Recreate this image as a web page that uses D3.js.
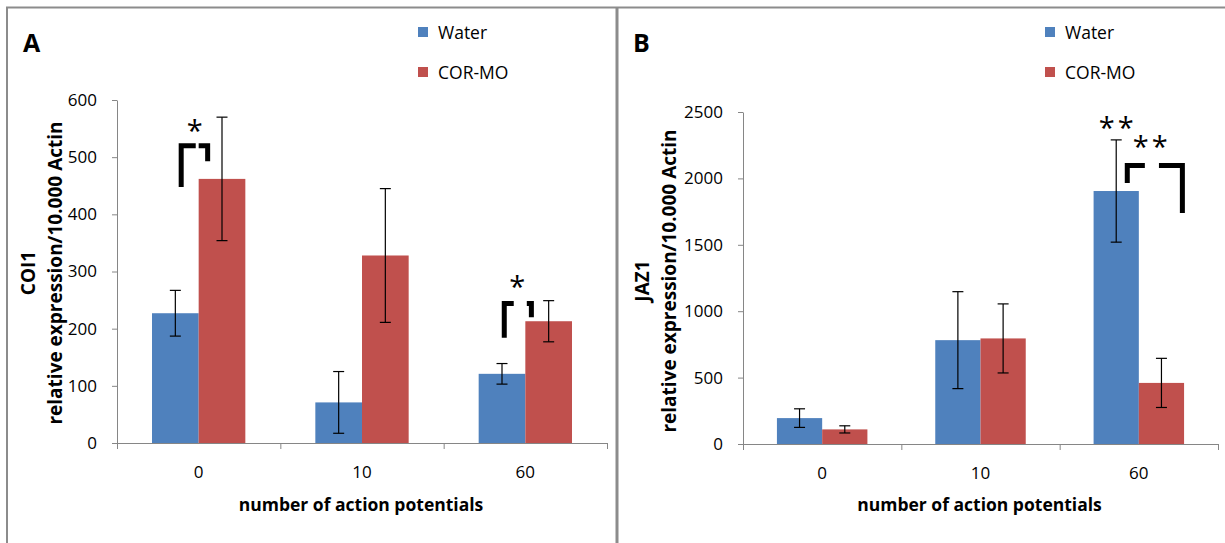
<!DOCTYPE html>
<html>
<head>
<meta charset="utf-8">
<script src="https://cdn.jsdelivr.net/npm/d3@7"></script>
<style>
  body { margin: 0; background: #fff; }
  svg text { font-family: "Open Sans", sans-serif; fill: #000; }
</style>
</head>
<body>
<div id="chart"></div>
<script>
// data
const categories = ["0", "10", "60"];
const seriesNames = ["Water", "COR-MO"];
const seriesColors = ["#4F81BD", "#C0504D"];

const coi1Water = [227, 71, 121];
const coi1WaterErr = [40, 54, 18];
const coi1Cor = [462, 328, 213];
const coi1CorErr = [108, 117, 36];
const coi1Ticks = [0, 100, 200, 300, 400, 500, 600];

const jaz1Water = [195, 782, 1905];
const jaz1WaterErr = [70, 365, 385];
const jaz1Cor = [110, 795, 460];
const jaz1CorErr = [27, 260, 185];
const jaz1Ticks = [0, 500, 1000, 1500, 2000, 2500];

// significance brackets: position inside category band (fraction) and value
const coi1Sig = [
  {cat: "0", left: [0.393, 0.482], right: [0.5, 0.555], top: 520, leftBottom: 448, rightBottom: 493, stars: [{t: "*", x: 0.485, v: 552}]},
  {cat: "60", left: [0.371, 0.429], right: [0.509, 0.537], top: 244, leftBottom: 184, rightBottom: 220, stars: [{t: "*", x: 0.46, v: 280}]}
];
const jaz1Sig = [
  {cat: "60", left: [0.427, 0.538], right: [0.627, 0.775], top: 2097, leftBottom: 1965, rightBottom: 1739,
   stars: [{t: "**", x: 0.367, v: 2410}, {t: "**", x: 0.582, v: 2267}]}
];

const W = 1225, H = 543;
const svg = d3.select("#chart").append("svg")
  .attr("width", W).attr("height", H);

// frame lines
svg.append("line").attr("x1", 6).attr("x2", W).attr("y1", 7.5).attr("y2", 7.5)
  .attr("stroke", "#8c8c8c").attr("stroke-width", 2);
svg.append("line").attr("x1", 7).attr("x2", 7).attr("y1", 7).attr("y2", H)
  .attr("stroke", "#8c8c8c").attr("stroke-width", 2);
svg.append("line").attr("x1", 617).attr("x2", 617).attr("y1", 7).attr("y2", H)
  .attr("stroke", "#8c8c8c").attr("stroke-width", 3);

function drawPanel(p) {
  const g = svg.append("g");

  const y = d3.scaleLinear().domain([0, p.ticks[p.ticks.length - 1]]).range([p.y0, p.y1]);
  const x = d3.scaleBand().domain(categories).range([p.x0, p.x1]);
  const xs = d3.scaleBand().domain(seriesNames).range([0, x.bandwidth()])
    .paddingInner(0).paddingOuter(0.75);

  // y axis
  const ya = g.append("g")
    .attr("transform", "translate(" + p.x0 + ",0)")
    .call(d3.axisLeft(y).tickValues(p.ticks).tickFormat(d3.format("d"))
      .tickSize(5).tickSizeOuter(0).tickPadding(15));
  ya.select(".domain").attr("stroke", "#868686");
  ya.selectAll(".tick line").attr("stroke", "#868686");
  ya.selectAll(".tick text").style("font-size", "17px").attr("fill", "#000");

  // x axis: ticks at category boundaries
  const xb = d3.scaleLinear().domain([0, categories.length]).range([p.x0, p.x1]);
  const xa = g.append("g")
    .attr("transform", "translate(0," + p.y0 + ")")
    .call(d3.axisBottom(xb).tickValues(d3.range(categories.length + 1)).tickFormat("").tickSize(6).tickSizeOuter(0));
  xa.select(".domain").attr("stroke", "#868686");
  xa.selectAll(".tick line").attr("stroke", "#868686");

  g.selectAll(".xlab").data(categories).enter().append("text")
    .attr("x", d => x(d) + x.bandwidth() / 2)
    .attr("y", p.y0 + 35)
    .attr("text-anchor", "middle")
    .style("font-size", "17px")
    .text(d => d);

  // bars
  const rows = [];
  categories.forEach((c, i) => {
    p.series.forEach((s, j) => {
      rows.push({cat: c, name: seriesNames[j], v: s.vals[i], e: s.errs[i], color: seriesColors[j]});
    });
  });

  g.selectAll(".bar").data(rows).enter().append("rect")
    .attr("x", d => x(d.cat) + xs(d.name))
    .attr("y", d => y(d.v))
    .attr("width", xs.bandwidth())
    .attr("height", d => y(0) - y(d.v))
    .attr("fill", d => d.color);

  // error bars
  const cap = 5.5;
  const eb = g.selectAll(".err").data(rows).enter().append("g")
    .attr("stroke", "#000").attr("stroke-width", 1.2);
  eb.append("line")
    .attr("x1", d => x(d.cat) + xs(d.name) + xs.bandwidth() / 2)
    .attr("x2", d => x(d.cat) + xs(d.name) + xs.bandwidth() / 2)
    .attr("y1", d => y(d.v + d.e)).attr("y2", d => y(d.v - d.e));
  [1, -1].forEach(sign => {
    eb.append("line")
      .attr("x1", d => x(d.cat) + xs(d.name) + xs.bandwidth() / 2 - cap)
      .attr("x2", d => x(d.cat) + xs(d.name) + xs.bandwidth() / 2 + cap)
      .attr("y1", d => y(d.v + sign * d.e)).attr("y2", d => y(d.v + sign * d.e));
  });

  // significance brackets
  const bx = (c, f) => x(c) + f * x.bandwidth();
  p.sig.forEach(s => {
    g.append("path")
      .attr("d", "M" + bx(s.cat, s.left[0]) + "," + y(s.leftBottom) +
        "V" + y(s.top) + "H" + bx(s.cat, s.left[1]))
      .attr("fill", "none").attr("stroke", "#000").attr("stroke-width", 5)
      .attr("stroke-linejoin", "miter");
    g.append("path")
      .attr("d", "M" + bx(s.cat, s.right[0]) + "," + y(s.top) +
        "H" + bx(s.cat, s.right[1]) + "V" + y(s.rightBottom))
      .attr("fill", "none").attr("stroke", "#000").attr("stroke-width", 5)
      .attr("stroke-linejoin", "miter");
    s.stars.forEach(st => {
      g.append("text")
        .attr("x", bx(s.cat, st.x))
        .attr("y", y(st.v) + 14)
        .attr("text-anchor", "middle")
        .style("font-size", "29px")
        .style("letter-spacing", "3px")
        .text(st.t);
    });
  });

  // panel letter
  g.append("text").attr("x", p.letterX).attr("y", 52)
    .style("font-size", "25px").style("font-weight", "bold").text(p.letter);

  // legend
  seriesNames.forEach((n, j) => {
    g.append("rect").attr("x", p.legX).attr("y", 27 + j * 40)
      .attr("width", 10).attr("height", 10).attr("fill", seriesColors[j]);
    g.append("text").attr("x", p.legX + 20).attr("y", 38.5 + j * 40)
      .style("font-size", "17.5px").text(n);
  });

  // axis titles
  const yt = g.append("text")
    .attr("transform", "translate(" + p.ytX + "," + p.ytY + ") rotate(-90)")
    .attr("text-anchor", "middle")
    .style("font-size", "19px").style("font-weight", "bold");
  yt.append("tspan").attr("x", 0).attr("dy", 0).text(p.gene);
  yt.append("tspan").attr("x", 0).attr("dy", 27).text("relative expression/10.000 Actin");

  g.append("text")
    .attr("x", (p.x0 + p.x1) / 2 - 1)
    .attr("y", 511)
    .attr("text-anchor", "middle")
    .style("font-size", "17.5px").style("font-weight", "bold")
    .text("number of action potentials");
}

drawPanel({
  letter: "A", letterX: 23, legX: 418, gene: "COI1",
  x0: 117, x1: 607, y0: 443, y1: 100, ticks: coi1Ticks,
  ytX: 35, ytY: 273,
  series: [{vals: coi1Water, errs: coi1WaterErr}, {vals: coi1Cor, errs: coi1CorErr}],
  sig: coi1Sig
});

drawPanel({
  letter: "B", letterX: 633, legX: 1045, gene: "JAZ1",
  x0: 743, x1: 1218, y0: 444, y1: 112, ticks: jaz1Ticks,
  ytX: 649, ytY: 281,
  series: [{vals: jaz1Water, errs: jaz1WaterErr}, {vals: jaz1Cor, errs: jaz1CorErr}],
  sig: jaz1Sig
});
</script>
</body>
</html>
